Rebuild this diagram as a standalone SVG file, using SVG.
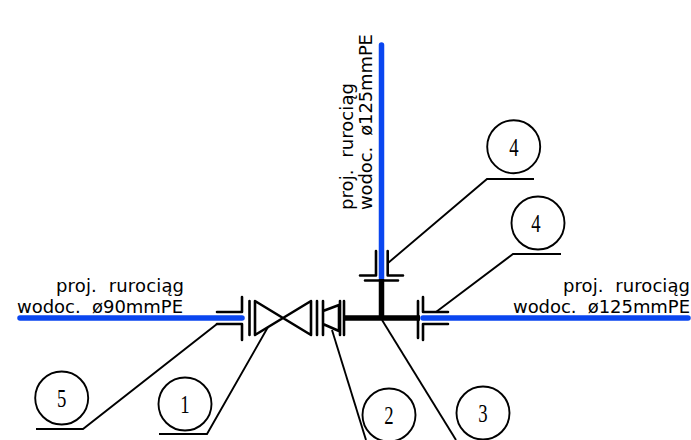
<svg xmlns="http://www.w3.org/2000/svg" width="691" height="440" viewBox="0 0 691 440">
<style>
.bg{fill:#fff}
.pipe{fill:none;stroke:#0a46f0;stroke-width:5.500;stroke-linecap:round}
.tee{fill:none;stroke:#000;stroke-width:5.500}
.fit{fill:none;stroke:#000;stroke-width:2.600;stroke-linecap:round;stroke-linejoin:round}
.lead{fill:none;stroke:#000;stroke-width:1.900}
.ring{fill:#fff;stroke:#000;stroke-width:1.900}
.num{font-family:"Liberation Serif",serif;font-size:26px;fill:#000;text-anchor:middle}
.lbl{font-family:"DejaVu Sans",sans-serif;font-size:18px;fill:#000}
</style>
<rect class="bg" width="691" height="440"/>
<g id="connectors">
<path class="lead" d="M36 429H83L217 324H243"/>
<path class="lead" d="M159 434H207L268 327"/>
<path class="lead" d="M332 330L366 440"/>
<path class="lead" d="M382 320L456 440"/>
<path class="lead" d="M388 263L487 179H534"/>
<path class="lead" d="M436 312L513 254H561"/>
</g>
<g id="pipe-west"><path class="pipe" d="M20 318H242"/></g>
<g id="pipe-north"><path class="pipe" d="M381.500 45V278"/></g>
<g id="pipe-east"><path class="pipe" d="M423 318H688"/></g>
<g id="tee"><path class="tee" d="M344 318H420M381.500 279V318"/></g>
<g id="flange-west"><path class="fit" d="M217 312H242V297M217 324H242V340"/></g>
<g id="valve"><path class="fit" d="M249.500 301V335M255 301L311 335V301L255 335Z M317 301V335"/></g>
<g id="reducer"><path class="fit" d="M323 301V335M323 311L339 305V331L323 324M340 301V335M344 301V335"/></g>
<g id="flange-north"><path class="fit" d="M376 251V275.500H360M387.700 251V275.500H403M365 280.500H398"/></g>
<g id="flange-east"><path class="fit" d="M418 301V338M448 312H423V297M448 324H423V340"/></g>
<g id="label-west">
<text class="lbl" x="56" y="292" textLength="128" xml:space="preserve">proj.  rurociąg</text>
<text class="lbl" x="17" y="313" textLength="166" xml:space="preserve">wodoc.  ø90mmPE</text>
</g>
<g id="label-north">
<text class="lbl" transform="translate(353 210) rotate(-90)" textLength="127" xml:space="preserve">proj.  rurociąg</text>
<text class="lbl" transform="translate(372 210) rotate(-90)" textLength="176" xml:space="preserve">wodoc.  ø125mmPE</text>
</g>
<g id="label-east">
<text class="lbl" x="563" y="292" textLength="127" xml:space="preserve">proj.  rurociąg</text>
<text class="lbl" x="513" y="313" textLength="177" xml:space="preserve">wodoc.  ø125mmPE</text>
</g>
<g id="node-5"><circle class="ring" cx="61.700" cy="398" r="26.500"/><text class="num" transform="translate(61.700 406.500) scale(.72 1)">5</text></g>
<g id="node-1"><circle class="ring" cx="185" cy="404" r="26.500"/><text class="num" transform="translate(185 412.500) scale(.72 1)">1</text></g>
<g id="node-2"><circle class="ring" cx="389" cy="415" r="26.500"/><text class="num" transform="translate(389 423.500) scale(.72 1)">2</text></g>
<g id="node-3"><circle class="ring" cx="483" cy="413" r="26.500"/><text class="num" transform="translate(483 421.500) scale(.72 1)">3</text></g>
<g id="node-4a"><circle class="ring" cx="513.700" cy="146.700" r="26.500"/><text class="num" transform="translate(514 155.500) scale(.72 1)">4</text></g>
<g id="node-4b"><circle class="ring" cx="538" cy="223" r="26.500"/><text class="num" transform="translate(536 231.500) scale(.72 1)">4</text></g>
</svg>
